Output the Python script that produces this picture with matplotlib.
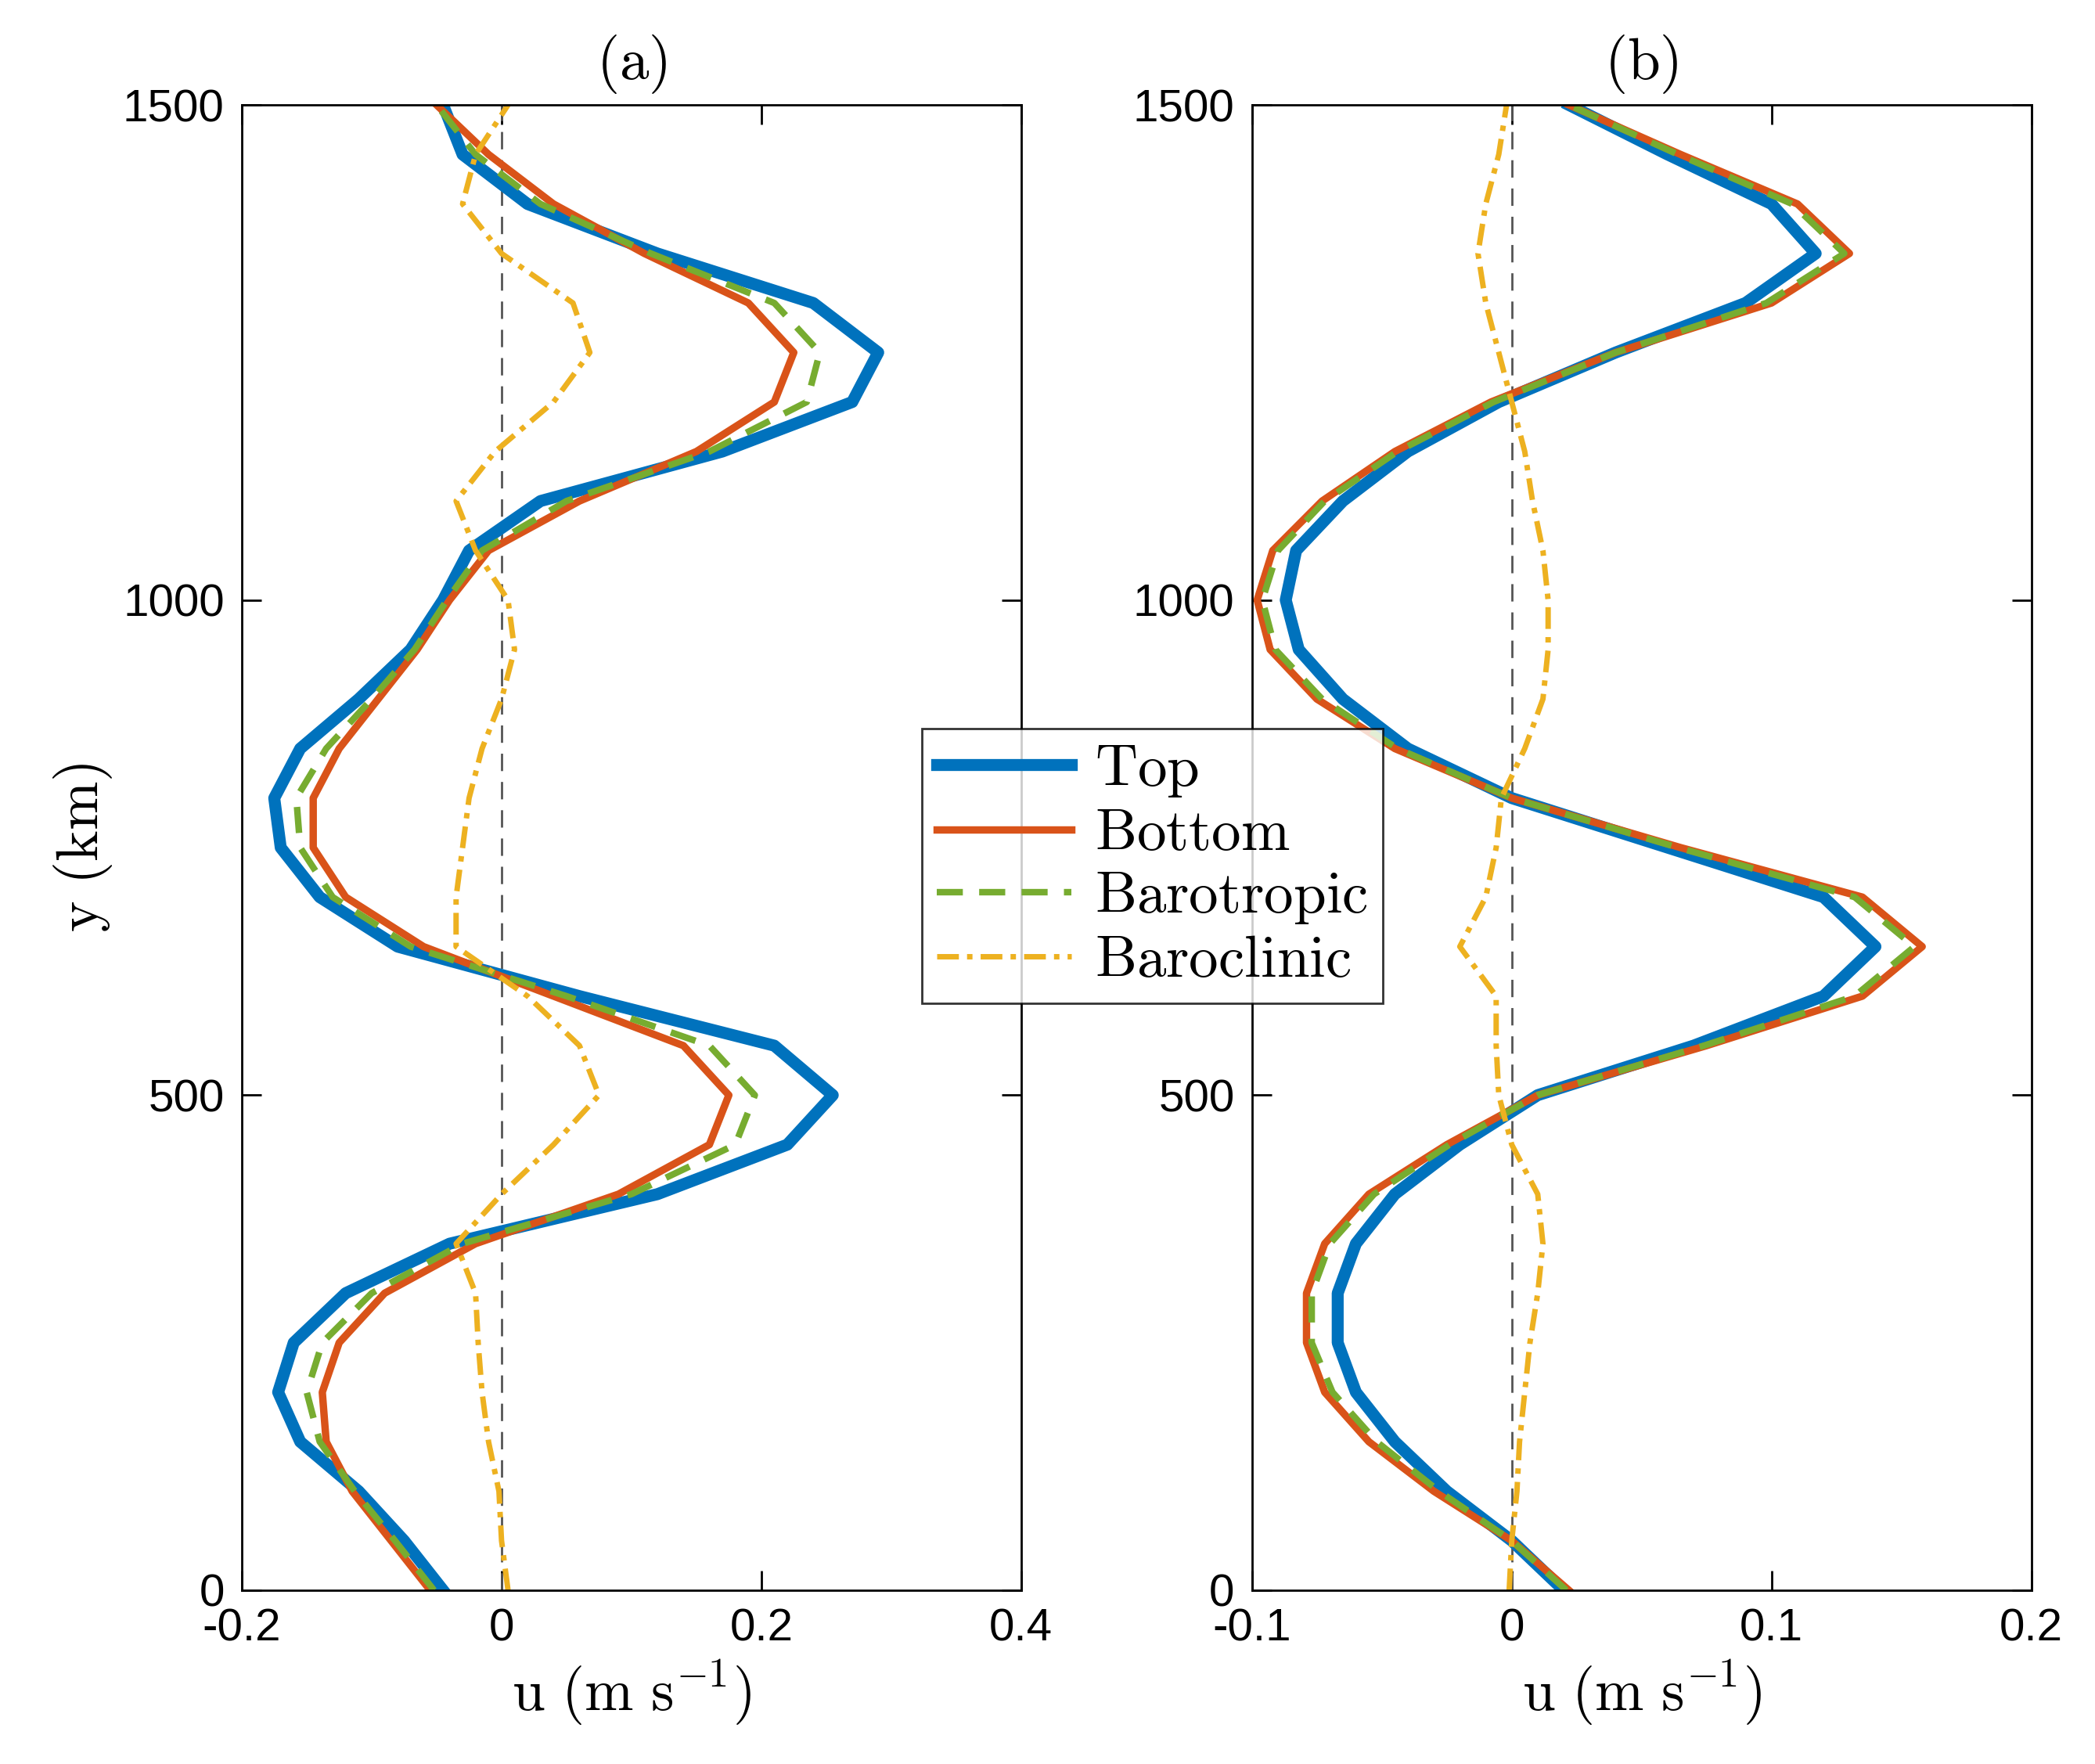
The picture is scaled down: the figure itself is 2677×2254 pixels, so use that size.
import numpy as np
import matplotlib
matplotlib.use("Agg")
import matplotlib.pyplot as plt

plt.rcParams['mathtext.fontset'] = 'cm'
plt.rcParams['font.family'] = ['Liberation Sans', 'DejaVu Sans']

y_km = list(range(0, 1501, 50))

top_a = [-0.045,-0.075,-0.11,-0.155,-0.172,-0.16,-0.12,-0.04,0.12,0.22,0.255,0.21,0.06,-0.08,-0.14,-0.17,
         -0.175,-0.155,-0.11,-0.07,-0.045,-0.025,0.03,0.17,0.27,0.29,0.24,0.12,0.02,-0.03,-0.045]
bot_a = [-0.055,-0.085,-0.115,-0.135,-0.138,-0.125,-0.09,-0.02,0.09,0.16,0.175,0.14,0.04,-0.06,-0.12,-0.145,
         -0.145,-0.125,-0.095,-0.065,-0.04,-0.01,0.06,0.15,0.21,0.225,0.19,0.11,0.04,-0.01,-0.05]
btp_a = [-0.052,-0.082,-0.113,-0.14,-0.15,-0.138,-0.1,-0.03,0.1,0.18,0.195,0.16,0.05,-0.07,-0.13,-0.155,
         -0.158,-0.135,-0.1,-0.067,-0.042,-0.015,0.05,0.16,0.235,0.245,0.21,0.115,0.03,-0.02,-0.05]
bcl_a = [0.005,0.0,-0.002,-0.01,-0.015,-0.018,-0.02,-0.035,0.0,0.04,0.075,0.06,0.02,-0.035,-0.035,-0.03,
         -0.025,-0.015,0.0,0.01,0.005,-0.02,-0.035,-0.005,0.04,0.068,0.055,0.0,-0.03,-0.02,0.005]

top_b = [0.02,0.0,-0.025,-0.045,-0.06,-0.067,-0.067,-0.06,-0.045,-0.02,0.01,0.07,0.12,0.14,0.12,0.06,
         0.0,-0.04,-0.065,-0.082,-0.087,-0.083,-0.065,-0.04,-0.005,0.04,0.09,0.117,0.1,0.06,0.022]
bot_b = [0.022,0.0,-0.03,-0.055,-0.072,-0.079,-0.079,-0.072,-0.055,-0.025,0.01,0.075,0.135,0.158,0.135,0.065,
         0.0,-0.045,-0.075,-0.093,-0.098,-0.092,-0.073,-0.045,-0.008,0.04,0.1,0.13,0.11,0.065,0.022]
btp_b = [0.021,0.0,-0.028,-0.052,-0.069,-0.077,-0.077,-0.07,-0.053,-0.024,0.01,0.074,0.132,0.155,0.132,0.064,
         0.0,-0.044,-0.073,-0.091,-0.096,-0.09,-0.072,-0.044,-0.007,0.04,0.098,0.128,0.108,0.064,0.022]
bcl_b = [-0.001,0.0,0.002,0.003,0.005,0.007,0.01,0.012,0.01,0.0,-0.005,-0.006,-0.006,-0.02,-0.01,-0.006,
         -0.004,0.005,0.012,0.014,0.014,0.012,0.008,0.005,0.0,-0.005,-0.01,-0.013,-0.01,-0.005,-0.002]

fig = plt.figure(figsize=(13.385, 11.27), dpi=200)
ax1 = fig.add_axes([0.1154, 0.0985, 0.372, 0.842])
ax2 = fig.add_axes([0.5976, 0.0985, 0.372, 0.842])

blue, red, green, yellow = '#0072BD', '#D95319', '#77AC30', '#EDB120'
for ax, t, b, bt, bc, xl, xt, title in [
        (ax1, top_a, bot_a, btp_a, bcl_a, (-0.2, 0.4), [-0.2, 0, 0.2, 0.4], '(a)'),
        (ax2, top_b, bot_b, btp_b, bcl_b, (-0.1, 0.2), [-0.1, 0, 0.1, 0.2], '(b)')]:
    ax.axvline(0, color='#555555', ls=(0, (8, 5)), lw=1.0)
    l1, = ax.plot(t, y_km, color=blue, lw=5.5, label=r'$\mathrm{Top}$', solid_joinstyle='round')
    l2, = ax.plot(b, y_km, color=red, lw=3.4, label=r'$\mathrm{Bottom}$', solid_joinstyle='round')
    l3, = ax.plot(bt, y_km, color=green, lw=3.0, ls=(0, (4, 2.5)), label=r'$\mathrm{Barotropic}$')
    l4, = ax.plot(bc, y_km, color=yellow, lw=2.5, ls=(0, (4, 1.5, 1, 1.5)), label=r'$\mathrm{Baroclinic}$')
    ax.set_xlim(*xl)
    ax.set_ylim(0, 1500)
    ax.set_xticks(xt)
    ax.set_xticklabels(['0' if v == 0 else f'{v:g}' for v in xt])
    ax.set_yticks([0, 500, 1000, 1500])
    ax.tick_params(direction='in', top=True, right=True, labelsize=21, length=9, width=1, pad=8)
    ax.set_title(r'$\mathrm{' + title + '}$', fontsize=27, pad=12)
    ax.set_xlabel(r'$\mathrm{u\ (m\ s^{-1})}$', fontsize=27, labelpad=4)
    for s in ax.spines.values():
        s.set_linewidth(1.0)
ax1.set_ylabel(r'$\mathrm{y\ (km)}$', fontsize=27)

leg = fig.legend(handles=[l1, l2, l3, l4], loc='upper left', bbox_to_anchor=(0.44, 0.587),
                 fontsize=27, frameon=True, fancybox=False, edgecolor='black',
                 handlelength=2.3, handletextpad=0.4, borderpad=0.25, labelspacing=0.15,
                 borderaxespad=0)
leg.get_frame().set_linewidth(1.0)
fig.savefig('out.png', dpi=200)
